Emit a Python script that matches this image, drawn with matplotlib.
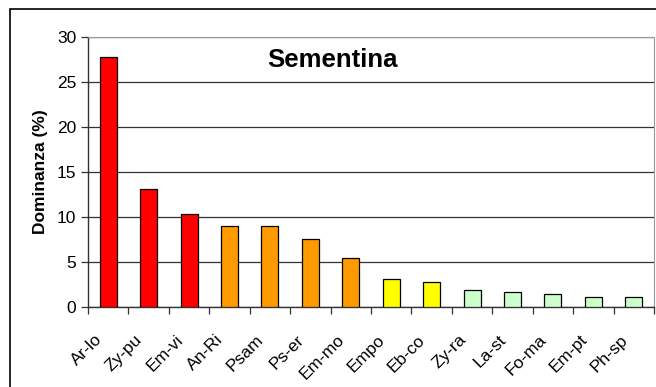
import matplotlib.pyplot as plt
import numpy as np
from matplotlib.patches import Rectangle
from matplotlib.transforms import ScaledTranslation

plt.rcParams['font.family'] = ['Liberation Sans', 'DejaVu Sans']

# specie e dominanza (%)
specie = ['Ar-lo', 'Zy-pu', 'Em-vi', 'An-Ri', 'Psam', 'Ps-er', 'Em-mo',
          'Empo', 'Eb-co', 'Zy-ra', 'La-st', 'Fo-ma', 'Em-pt', 'Ph-sp']
dominanza = [27.8, 13.1, 10.3, 9.05, 9.05, 7.55, 5.45,
             3.1, 2.8, 1.85, 1.7, 1.4, 1.15, 1.15]
colori = ['#FF0000'] * 3 + ['#FF9900'] * 4 + ['#FFFF00'] * 2 + ['#CCFFCC'] * 5

fig = plt.figure(figsize=(6.56, 3.87), dpi=100)

# cornice esterna del grafico
fig.patches.append(Rectangle((10 / 656, -0.05), 1.0, 1 - 9 / 387 + 0.05,
                             transform=fig.transFigure, fill=False,
                             edgecolor='black', linewidth=1.2))

ax = fig.add_axes([88 / 656, 1 - 307 / 387, 566 / 656, 270 / 387])

x = np.arange(len(specie))
ax.bar(x, dominanza, width=0.42, color=colori, edgecolor='black',
       linewidth=0.9, zorder=3)

ax.set_xlim(-0.5, len(specie) - 0.5)
ax.set_ylim(0, 30)
ax.set_yticks(np.arange(0, 31, 5))
ax.yaxis.grid(True, color='#333333', linewidth=0.9, zorder=0)

# tacche sull'asse x tra una categoria e l'altra
ax.set_xticks(np.arange(-0.5, len(specie), 1))
ax.set_xticklabels([])
ax.set_xticks(x, minor=True)
ax.set_xticklabels(specie, minor=True, rotation=45, ha='right',
                   rotation_mode='anchor', fontsize=12.5)
ax.tick_params(axis='x', which='minor', length=0, pad=18)
ax.tick_params(axis='x', which='major', length=5, width=0.9, direction='out',
               color='#333333')
ax.tick_params(axis='y', length=5, width=0.9, labelsize=12.5, color='#333333')

# etichette spostate un po' a sinistra
sposta = ScaledTranslation(-14 / 100, 0, fig.dpi_scale_trans)
for lab in ax.get_xticklabels(minor=True):
    lab.set_transform(lab.get_transform() + sposta)

for lato in ['top', 'right']:
    ax.spines[lato].set_color('#999999')
for lato in ['left', 'bottom']:
    ax.spines[lato].set_color('#333333')
    ax.spines[lato].set_linewidth(1.0)

ax.set_ylabel('Dominanza (%)', fontsize=12.5, fontweight='bold', labelpad=6)
ax.text(0.432, 0.915, 'Sementina', transform=ax.transAxes, ha='center',
        va='center', fontsize=18.5, fontweight='bold')

fig.savefig('out.png', dpi=100)
